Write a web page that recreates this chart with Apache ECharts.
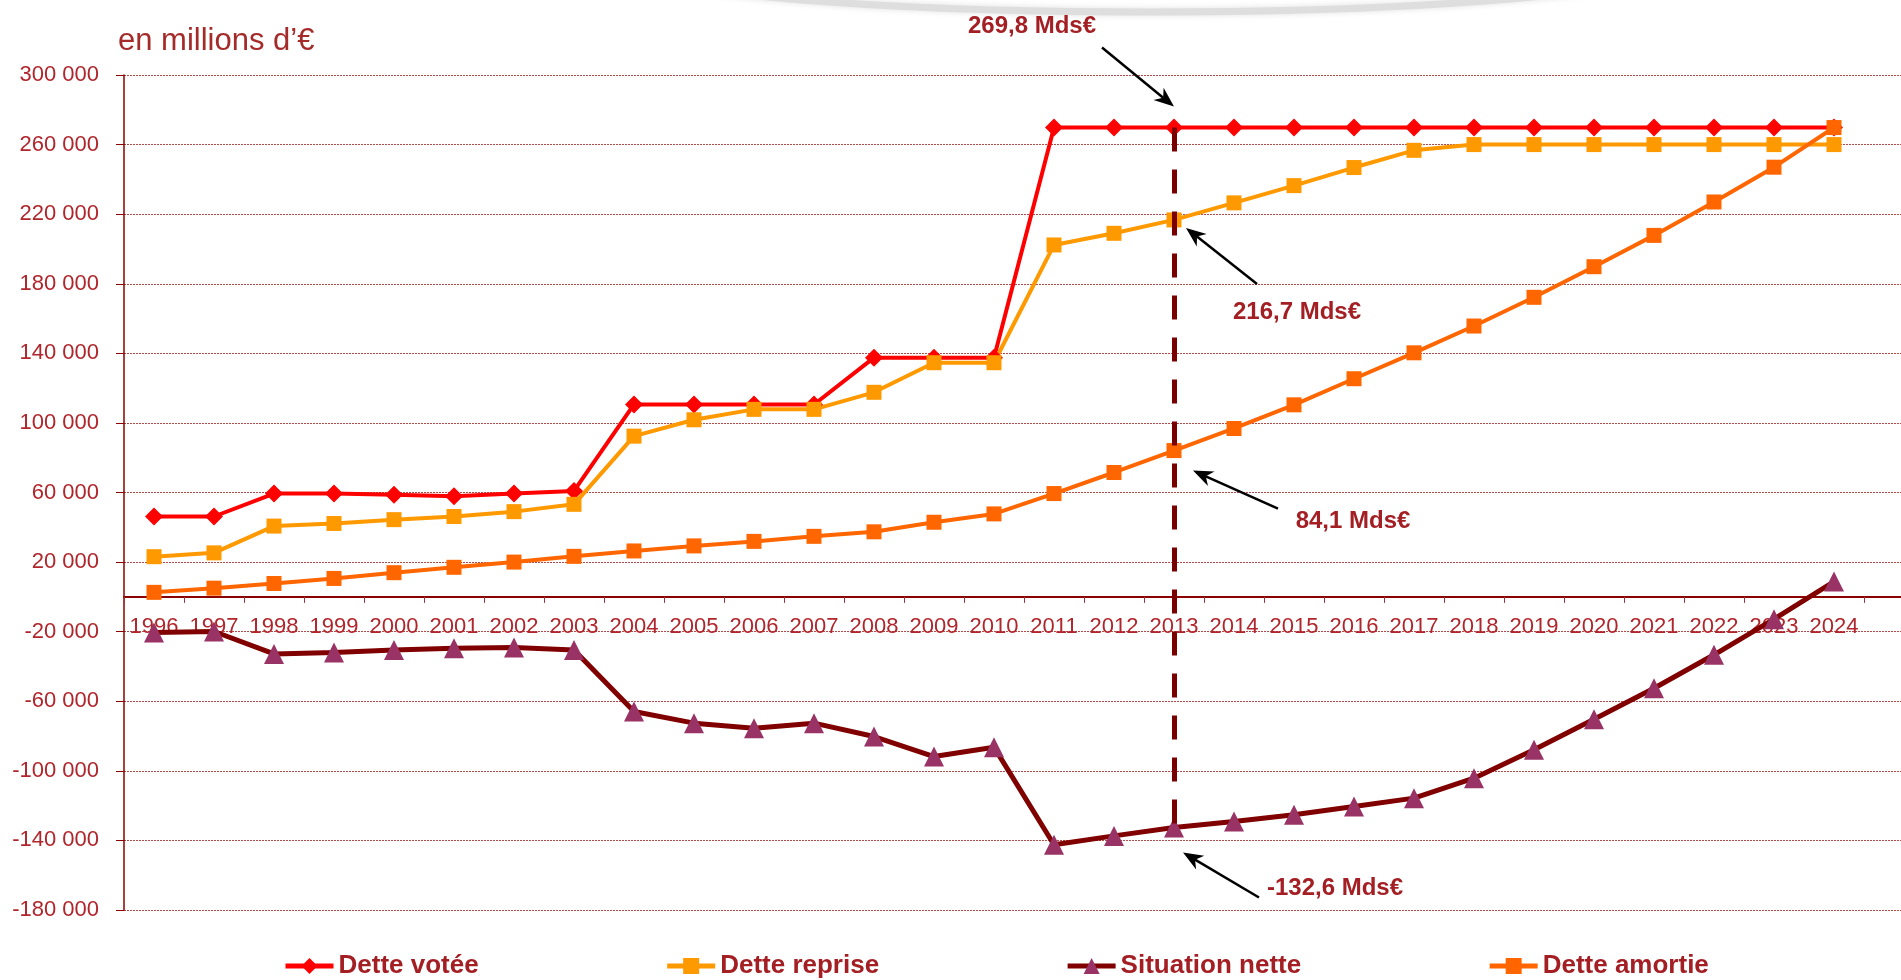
<!DOCTYPE html>
<html>
<head>
<meta charset="utf-8">
<script src="https://cdn.jsdelivr.net/npm/echarts@6/dist/echarts.min.js"></script>
<style>
  html, body { margin: 0; padding: 0; background: #fff; }
  #chart { width: 1901px; height: 980px; }
</style>
</head>
<body>
<div id="chart"></div>
<script>
const years = ['1996', '1997', '1998', '1999', '2000', '2001', '2002', '2003', '2004', '2005',
  '2006', '2007', '2008', '2009', '2010', '2011', '2012', '2013', '2014', '2015',
  '2016', '2017', '2018', '2019', '2020', '2021', '2022', '2023', '2024'];

const detteVotee = [46200, 46200, 59400, 59400, 58700, 57800, 59400, 60900, 110600, 110600,
  110600, 110600, 137500, 137500, 137500, 269800, 269800, 269800, 269800, 269800,
  269800, 269800, 269800, 269800, 269800, 269800, 269800, 269800, 269800];

const detteReprise = [23100, 25300, 40700, 42200, 44400, 46200, 49000, 53200, 92400, 101800,
  107800, 107800, 117600, 134600, 134600, 202300, 209000, 216700, 226500, 236400,
  246800, 256700, 260000, 260000, 260000, 260000, 260000, 260000, 260000];

const situationNette = [-20500, -19900, -32800, -32000, -30500, -29500, -29100, -30500, -65900, -72600,
  -75500, -72600, -80300, -91800, -86400, -142500, -137400, -132600, -129100, -125300,
  -120500, -115700, -104200, -87900, -70300, -52500, -33300, -12800, 8800];

const detteAmortie = [2600, 5000, 7700, 10600, 13900, 17000, 20000, 23300, 26400, 29300,
  31900, 34800, 37400, 42900, 47700, 59400, 71500, 84100, 96800, 110400,
  125400, 140300, 155700, 172200, 189800, 207800, 227000, 247000, 269800];

const seriesNames = ['Dette votée', 'Dette reprise', 'Situation nette', 'Dette amortie'];
const focusYear = '2013';

const SANS = '"Liberation Sans", Arial, Helvetica, sans-serif';
const DARK_RED = '#A31F24';

function fmtThousands(v) {
  const s = String(Math.abs(v)).replace(/\B(?=(\d{3})+(?!\d))/g, ' ');
  return (v < 0 ? '-' : '') + s;
}
function fmtMds(v) {
  return (v / 1000).toFixed(1).replace('.', ',') + ' Mds€';
}

const chart = echarts.init(document.getElementById('chart'), null, { renderer: 'canvas' });

const option = {
  animation: false,
  backgroundColor: '#ffffff',
  grid: { left: 124, top: 75, width: 1800, height: 835, containLabel: false, outerBoundsMode: 'none' },
  legend: {
    data: seriesNames,
    left: 278,
    top: 948,
    width: 1600,
    itemGap: 186,
    itemWidth: 48,
    itemHeight: 20,
    lineStyle: { width: 5 },
    textStyle: { fontFamily: SANS, fontWeight: 'bold', fontSize: 26, color: DARK_RED }
  },
  xAxis: {
    type: 'category',
    data: years,
    max: years.length,
    boundaryGap: true,
    position: 'bottom',
    offset: 0,
    axisLine: { onZero: false, lineStyle: { color: '#8B0000', width: 2 } },
    axisTick: { show: true, length: 6, lineStyle: { color: '#A0303A' } },
    axisLabel: {
      interval: 0,
      margin: 19,
      fontFamily: SANS,
      fontSize: 22,
      color: '#B0262C',
      formatter: function (v) { return v == null || v === 'undefined' ? '' : v; }
    },
    splitLine: { show: false }
  },
  yAxis: {
    type: 'value',
    min: -180000,
    max: 300000,
    interval: 40000,
    axisLine: { show: true, lineStyle: { color: '#8B0000', width: 1.5 } },
    axisTick: { show: true, length: 8, lineStyle: { color: '#8B0000' } },
    axisLabel: {
      margin: 25,
      fontFamily: SANS,
      fontSize: 22,
      color: '#B0262C',
      formatter: fmtThousands
    },
    splitLine: { show: true, lineStyle: { color: '#B84A4A', width: 1, type: [2, 1] } }
  },
  series: [
    {
      name: seriesNames[0],
      type: 'line',
      data: detteVotee,
      symbol: 'diamond',
      symbolSize: 18,
      lineStyle: { color: '#FF0000', width: 4 },
      itemStyle: { color: '#FF0000' },
      markLine: {
        silent: true,
        symbol: ['none', 'none'],
        label: { show: false },
        lineStyle: { color: '#7A0000', width: 5, type: [24, 18] },
        data: [[
          { coord: [focusYear, detteVotee[years.indexOf(focusYear)]] },
          { coord: [focusYear, situationNette[years.indexOf(focusYear)]] }
        ]]
      }
    },
    {
      name: seriesNames[1],
      type: 'line',
      data: detteReprise,
      symbol: 'rect',
      symbolSize: 15,
      lineStyle: { color: '#FF9900', width: 4 },
      itemStyle: { color: '#FF9900' }
    },
    {
      name: seriesNames[2],
      type: 'line',
      data: situationNette,
      symbol: 'triangle',
      symbolSize: 20,
      lineStyle: { color: '#800000', width: 5 },
      itemStyle: { color: '#993366' }
    },
    {
      name: seriesNames[3],
      type: 'line',
      data: detteAmortie,
      symbol: 'rect',
      symbolSize: 15,
      lineStyle: { color: '#FF6600', width: 4 },
      itemStyle: { color: '#FF6600' }
    }
  ]
};

chart.setOption(option);

// move the category axis up to the zero line of the value axis
const zeroY = chart.convertToPixel({ yAxisIndex: 0 }, 0);
const gridBottom = option.grid.top + option.grid.height;
chart.setOption({ xAxis: { offset: zeroY - gridBottom } });

// annotations anchored on the 2013 points
const idx = years.indexOf(focusYear);
const notes = [
  { value: detteVotee[idx], tail: [-72, -80], head: [0, -21], text: [-142, -101] },
  { value: detteReprise[idx], tail: [83, 64], head: [12, 8], text: [123, 92] },
  { value: detteAmortie[idx], tail: [104, 58], head: [19, 20], text: [179, 71] },
  { value: situationNette[idx], tail: [85, 70], head: [9, 25], text: [161, 61] }
];

function arrow(t, h) {
  const dx = h[0] - t[0], dy = h[1] - t[1];
  const len = Math.hypot(dx, dy);
  const ux = dx / len, uy = dy / len;
  const L = 20, W = 8;
  const bx = h[0] - ux * L, by = h[1] - uy * L;
  return [
    { type: 'line', silent: true, z: 100, shape: { x1: t[0], y1: t[1], x2: bx + ux * 6, y2: by + uy * 6 },
      style: { stroke: '#000', lineWidth: 2.5 } },
    { type: 'polygon', silent: true, z: 100,
      shape: { points: [h, [bx - uy * W, by + ux * W], [bx + ux * 6, by + uy * 6], [bx + uy * W, by - ux * W]] },
      style: { fill: '#000' } }
  ];
}

const graphics = [
  {
    type: 'ellipse', silent: true, z: -1,
    shape: { cx: 1150, cy: -44, rx: 560, ry: 56 },
    style: { fill: 'none', stroke: '#dedede', lineWidth: 7, shadowBlur: 6, shadowColor: 'rgba(0,0,0,0.12)' }
  },
  {
    type: 'text', left: 118, top: 26, silent: true,
    style: { text: 'en millions d’€', fontFamily: SANS, fontSize: 31, fill: '#A52A2A' }
  }
];

notes.forEach(function (n) {
  const p = chart.convertToPixel({ xAxisIndex: 0, yAxisIndex: 0 }, [focusYear, n.value]);
  arrow([p[0] + n.tail[0], p[1] + n.tail[1]], [p[0] + n.head[0], p[1] + n.head[1]])
    .forEach(function (g) { graphics.push(g); });
  graphics.push({
    type: 'text', silent: true, z: 100,
    x: p[0] + n.text[0], y: p[1] + n.text[1],
    style: {
      text: fmtMds(n.value), fontFamily: SANS, fontWeight: 'bold', fontSize: 24,
      fill: DARK_RED, align: 'center', verticalAlign: 'middle'
    }
  });
});

chart.setOption({ graphic: graphics });
</script>
</body>
</html>
